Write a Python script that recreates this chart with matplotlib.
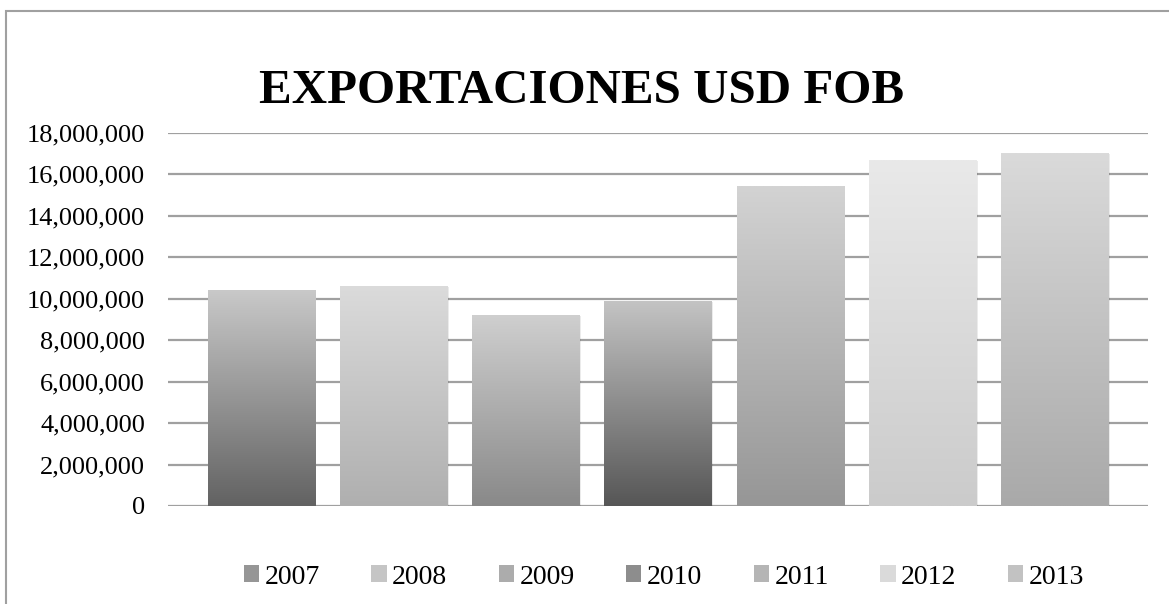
import numpy as np
import matplotlib
matplotlib.use('Agg')
import matplotlib.pyplot as plt
from matplotlib.colors import LinearSegmentedColormap
from matplotlib.patches import Rectangle, Patch
from matplotlib.ticker import FuncFormatter

years = ['2007', '2008', '2009', '2010', '2011', '2012', '2013']
exports = [10410000, 10600000, 9200000, 9880000, 15420000, 16670000, 17010000]
# gradient colours of each bar: top, bottom
tops = ['#c9c9c9', '#dbdbdb', '#cfcfcf', '#c4c4c4', '#d3d3d3', '#e9e9e9', '#dadada']
bottoms = ['#626262', '#afafaf', '#898989', '#565656', '#969696', '#cbcbcb', '#a9a9a9']

plt.rcParams['font.family'] = ['Liberation Serif', 'DejaVu Serif']

fig = plt.figure(figsize=(11.69, 6.04), dpi=100)
# outer chart frame (only left and top edges visible)
fig.patches.append(Rectangle((6 / 1169, -0.1), 1.2, 1 - 11 / 604 + 0.1,
                             transform=fig.transFigure, fill=False,
                             edgecolor='#a0a0a0', linewidth=1.5))

ax = fig.add_axes([168 / 1169, 1 - 506 / 604, (1148 - 168) / 1169, (506 - 132.5) / 604])

x = np.arange(len(years))
w = 0.81
bars = ax.bar(x, exports, width=w, color='none', edgecolor='none', zorder=3)
grad = np.linspace(0, 1, 256).reshape(-1, 1)
for b, top, bot in zip(bars, tops, bottoms):
    cmap = LinearSegmentedColormap.from_list('g', [bot, top])
    bx, bw, bh = b.get_x(), b.get_width(), b.get_height()
    # soft shadow
    ax.add_patch(Rectangle((bx + 0.012, 0), bw, bh - 30000, facecolor='#000000',
                           alpha=0.08, edgecolor='none', zorder=2.5))
    im = ax.imshow(grad, extent=[bx, bx + bw, 0, bh], origin='lower',
                   cmap=cmap, aspect='auto', zorder=3)
    im.set_clip_path(b)

ax.set_xlim(-0.705, 6.705)
ax.set_ylim(0, 18000000)
ax.set_yticks(np.arange(0, 18000001, 2000000))
ax.yaxis.set_major_formatter(FuncFormatter(lambda v, p: f'{int(v):,}'))
ax.set_xticks([])
ax.tick_params(axis='y', length=0, pad=16.5, labelsize=19)
for s in ax.spines.values():
    s.set_visible(False)
ax.grid(axis='y', color='#a0a0a0', linewidth=1.6, zorder=0)
ax.set_axisbelow(True)

fig.text(582 / 1169, 1 - 91 / 604, 'EXPORTACIONES USD FOB', ha='center', va='center',
         fontsize=35.3, fontweight='bold')

handles = [Patch(facecolor=LinearSegmentedColormap.from_list('g', [b, t])(0.5), edgecolor='none')
           for t, b in zip(tops, bottoms)]
fig.legend(handles, years, loc='center', bbox_to_anchor=(664 / 1169, 1 - 577 / 604),
           ncol=7, frameon=False, fontsize=20, handlelength=0.55, handleheight=0.55,
           handletextpad=0.2, columnspacing=1.85)

fig.savefig('out.png', dpi=100)
